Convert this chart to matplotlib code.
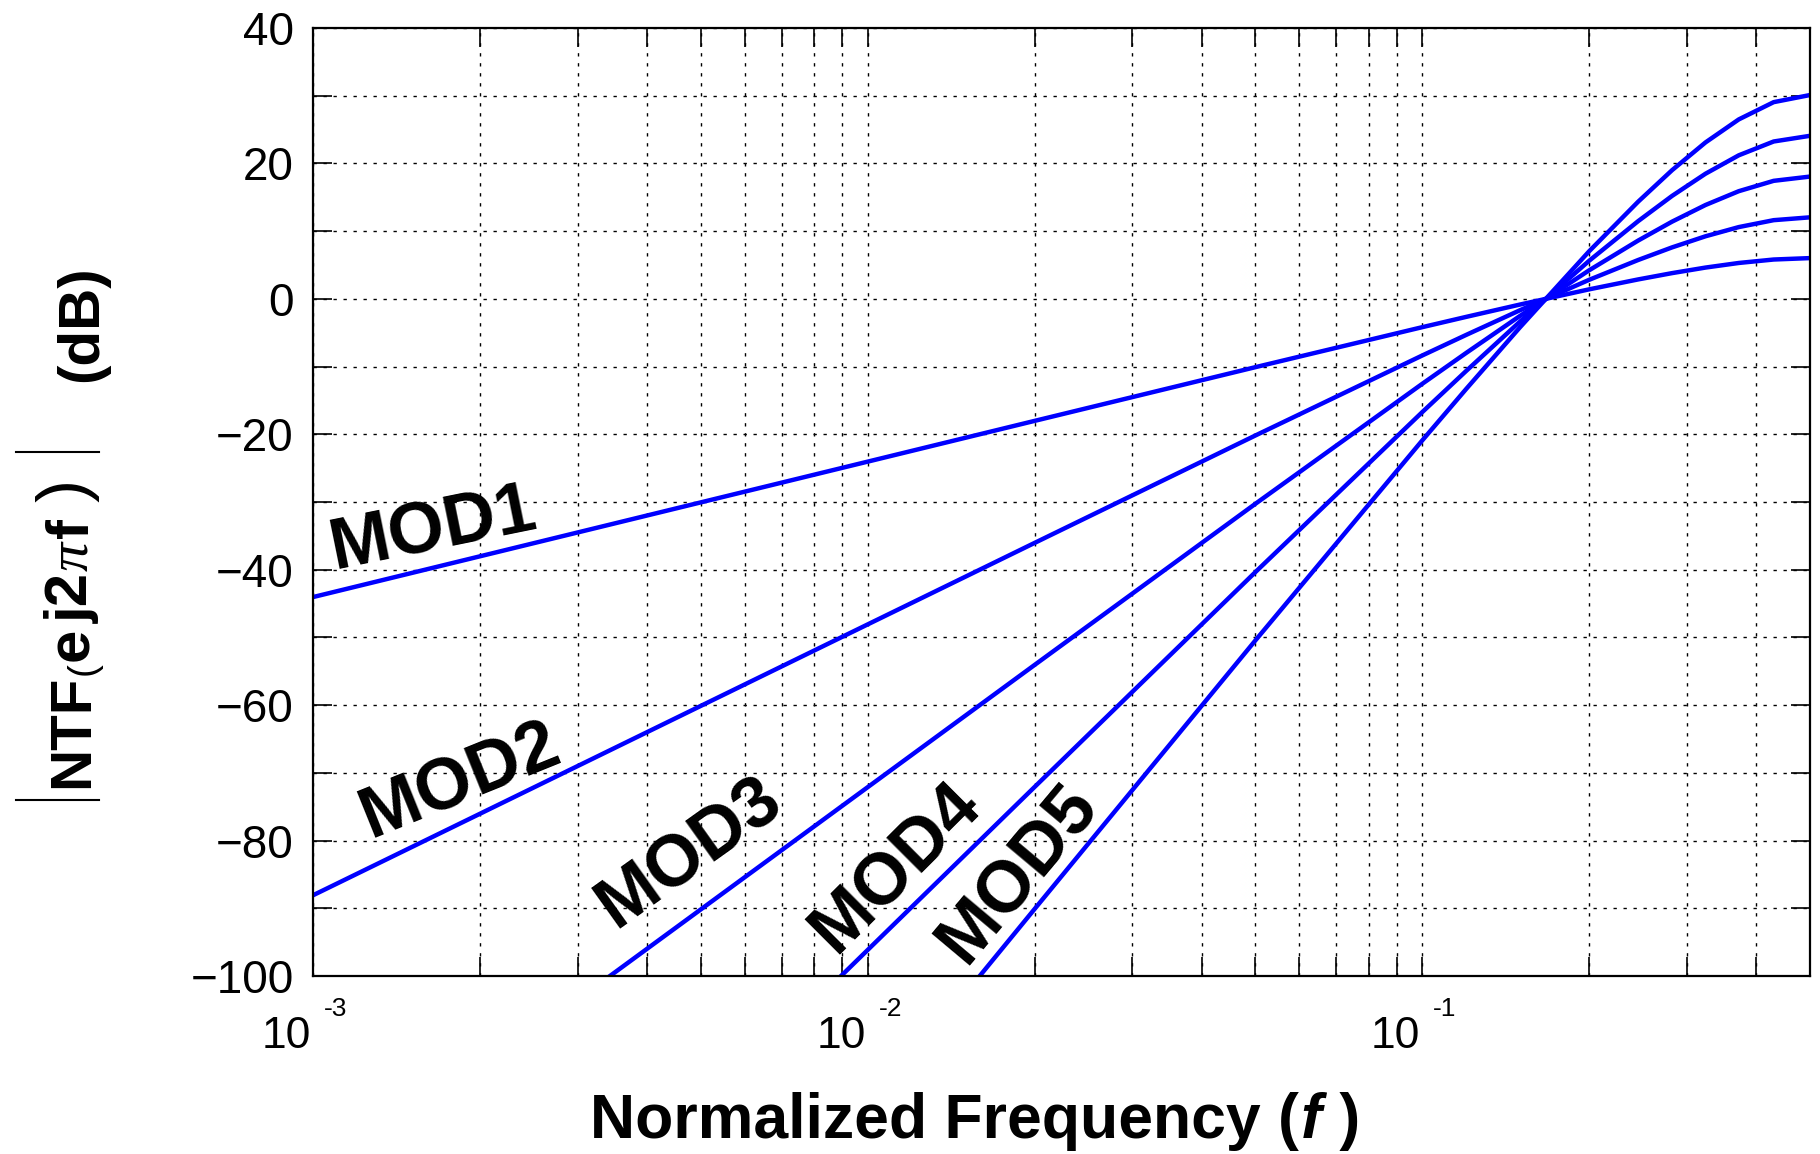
import numpy as np
import matplotlib
matplotlib.use('Agg')
import matplotlib.pyplot as plt
from matplotlib.lines import Line2D
from matplotlib.transforms import IdentityTransform, offset_copy

# NTF magnitude (dB) of 1st..5th order modulators
freq = [0.001, 0.002, 0.005, 0.01, 0.02, 0.05, 0.1, 0.12, 0.15, 0.2,
        0.245, 0.282, 0.324, 0.372, 0.43, 0.5]
mod1 = [-44.04, -38.02, -30.06, -24.04, -18.02, -10.09, -4.18, -2.66, -0.84, 1.41,
        2.87, 3.80, 4.62, 5.30, 5.81, 6.02]
mod2 = [-88.08, -76.04, -60.12, -48.08, -36.04, -20.18, -8.36, -5.32, -1.68, 2.82,
        5.74, 7.60, 9.24, 10.60, 11.62, 12.04]
mod3 = [-132.12, -114.06, -90.18, -72.12, -54.06, -30.27, -12.54, -7.98, -2.52, 4.23,
        8.61, 11.40, 13.86, 15.90, 17.43, 18.06]
mod4 = [-176.16, -152.08, -120.24, -96.16, -72.08, -40.36, -16.72, -10.64, -3.36, 5.64,
        11.48, 15.20, 18.48, 21.20, 23.24, 24.08]
mod5 = [-220.20, -190.10, -150.30, -120.20, -90.10, -50.45, -20.90, -13.30, -4.20, 7.05,
        14.35, 19.00, 23.10, 26.50, 29.05, 30.10]

labels = ['MOD1', 'MOD2', 'MOD3', 'MOD4', 'MOD5']
# label centres (f, dB) and rotation
label_x = [0.00164, 0.00184, 0.00476, 0.0112, 0.0186]
label_y = [-34.0, -71.1, -81.8, -83.9, -84.8]
label_rot = [11.5, 22, 35.5, 45, 50]

yticks = [-100, -80, -60, -40, -20, 0, 20, 40]
decades = [-3, -2, -1]

plt.rcParams['font.family'] = ['Liberation Sans', 'DejaVu Sans']

W, H = 1820, 1154
fig = plt.figure(figsize=(W / 100, H / 100), dpi=100)
ax = fig.add_axes([313 / W, (H - 976) / H, 1497 / W, 948 / H])

for ser in [mod1, mod2, mod3, mod4, mod5]:
    ax.plot(freq, ser, color=(0, 0, 1), lw=3.2, solid_capstyle='round')

ax.set_xscale('log')
ax.set_xlim(0.001, 0.5)
ax.set_ylim(-100, 40)
ax.set_yticks(yticks)
ax.set_yticks(np.arange(-90, 40, 20), minor=True)
ax.yaxis.set_minor_formatter(plt.NullFormatter())
ax.xaxis.set_major_formatter(plt.NullFormatter())
ax.xaxis.set_minor_formatter(plt.NullFormatter())

ax.tick_params(which='both', direction='in', length=14, width=1.2,
               top=True, right=True, labelsize=33, pad=14)
ax.grid(True, which='both', color='black', lw=1.0, linestyle=(0, (2.4, 4.8)))
for s in ax.spines.values():
    s.set_linewidth(1.6)

# x tick labels, MATLAB style 10 with raised exponent
tr_base = offset_copy(ax.get_xaxis_transform(), fig=fig, x=-2, y=-72, units='dots')
tr_exp = offset_copy(ax.get_xaxis_transform(), fig=fig, x=11, y=-40, units='dots')
for d in decades:
    ax.text(10.0 ** d, 0, '10', transform=tr_base, ha='right', va='baseline', fontsize=32)
    ax.text(10.0 ** d, 0, '-%d' % -d, transform=tr_exp, ha='left', va='baseline', fontsize=19)

for lab, lx, ly, rot in zip(labels, label_x, label_y, label_rot):
    ax.text(lx, ly, lab, fontsize=52, fontweight='bold', rotation=rot,
            rotation_mode='anchor', ha='center', va='center')

# x label
ident = IdentityTransform()
renderer = fig.canvas.get_renderer()
t1 = fig.text(590, H - 1138, 'Normalized Frequency (', transform=ident,
              fontsize=45, fontweight='bold', va='baseline')
bb = t1.get_window_extent(renderer)
t2 = fig.text(bb.x1 + 2, H - 1138, 'f', transform=ident, fontsize=45,
              fontweight='bold', style='italic', va='baseline')
bb = t2.get_window_extent(renderer)
fig.text(bb.x1, H - 1138, ' )', transform=ident, fontsize=45,
         fontweight='bold', va='baseline')

# y label built from pieces (rotated 90 degrees); start of each piece in pixels from top
pieces = [
    # text, baseline x, start y, size, weight, style, family
    ('NTF', 88, 788, 42, 'bold', 'normal', None),
    ('(', 94, 675, 28, 'normal', 'normal', None),
    ('e', 88, 661, 43, 'bold', 'normal', None),
    ('j2', 88, 623, 43, 'bold', 'normal', None),
    ('\u03c0', 87, 571, 42, 'normal', 'italic', ['Liberation Serif', 'DejaVu Serif']),
    ('f', 88, 538, 43, 'bold', 'normal', None),
    (')', 86, 502, 50, 'normal', 'normal', None),
]
for s, bx, sy, size, weight, style, fam in pieces:
    kw = dict(transform=ident, rotation=90, rotation_mode='anchor',
              ha='left', va='baseline', fontsize=size, fontweight=weight, style=style)
    if fam:
        kw['family'] = fam
    fig.text(bx, H - sy, s, **kw)

fig.text(97, H - 382, '(dB)', transform=ident, rotation=90, rotation_mode='anchor',
         ha='left', va='baseline', fontsize=42, fontweight='bold')
for yb in [800, 452]:
    fig.add_artist(Line2D([16, 99], [H - yb, H - yb], transform=ident,
                          color='black', lw=1.5))

fig.savefig('out.png', dpi=100)
